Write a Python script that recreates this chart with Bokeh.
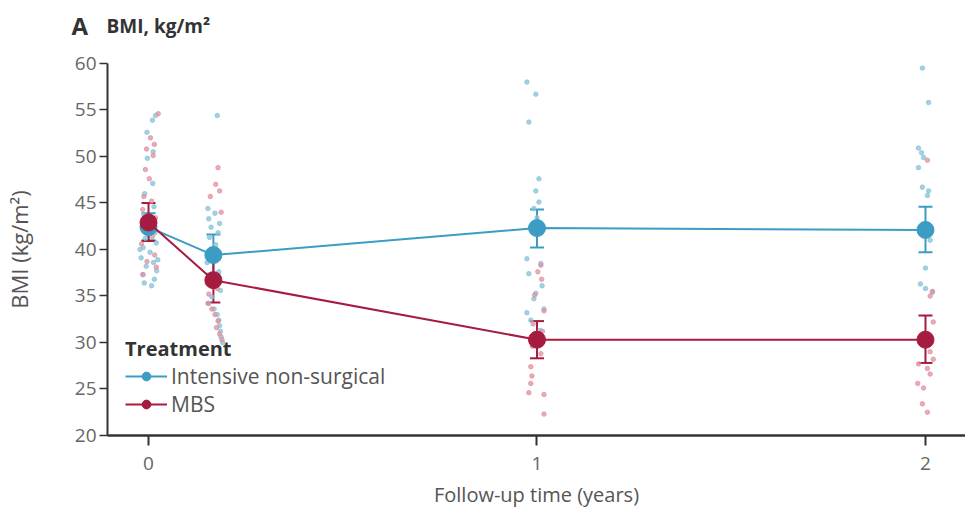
from bokeh.plotting import figure
from bokeh.models import (Range1d, FixedTicker, Whisker, ColumnDataSource, Legend,
                          LegendItem, Label, TeeHead)
from bokeh.embed import file_html
from bokeh.resources import INLINE

# Follow-up time points (years) and group summaries (mean with 95% CI)
times = [0, 0.167, 1, 2]
ins_mean = [42.4, 39.4, 42.3, 42.1]
ins_lo = [41.0, 37.4, 40.2, 39.7]
ins_hi = [43.9, 41.6, 44.3, 44.6]
mbs_mean = [42.9, 36.7, 30.3, 30.3]
mbs_lo = [40.9, 34.3, 28.3, 27.8]
mbs_hi = [45.0, 39.1, 32.3, 32.9]

# Individual participant values per visit, with horizontal jitter (years)
ins_t0 = [54.4, 53.9, 52.6, 50.5, 49.8, 47.1, 46.0, 44.6, 43.7, 43.0, 42.3, 41.8, 41.2,
          40.7, 40.2, 39.7, 39.1, 38.6, 38.2, 37.7, 37.3, 36.8, 36.4, 36.1, 38.9, 40.0]
ins_t0_dx = [0.018, 0.010, -0.004, 0.012, -0.003, 0.011, -0.010, 0.014, -0.012, 0.006,
             -0.016, 0.017, -0.008, 0.020, -0.014, 0.004, -0.019, 0.013, -0.006, 0.021,
             -0.015, 0.015, -0.011, 0.008, 0.024, -0.022]
mbs_t0 = [54.6, 52.0, 51.3, 50.8, 50.1, 48.6, 47.6, 45.7, 45.2, 44.3, 43.4, 42.0, 41.4,
          40.6, 39.4, 38.7, 38.1, 37.3]
mbs_t0_dx = [0.025, 0.005, 0.015, -0.005, 0.012, -0.008, 0.002, -0.012, 0.008, -0.015,
             0.018, -0.010, 0.010, -0.018, 0.016, -0.004, 0.020, -0.014]

ins_t2m = [54.4, 44.4, 43.9, 43.3, 42.8, 42.4, 41.8, 41.3, 40.5, 38.6, 37.6, 36.3, 35.6,
           34.9, 34.2, 33.6, 33.0, 32.4, 31.8, 31.2, 30.6, 30.0]
ins_t2m_dx = [0.010, -0.014, 0.004, -0.012, 0.016, -0.006, 0.012, -0.010, 0.006, -0.016,
              0.014, -0.008, 0.018, -0.004, -0.012, 0.002, 0.010, 0.014, 0.016, 0.018,
              0.020, 0.024]
mbs_t2m = [48.8, 47.0, 46.3, 45.7, 44.0, 36.4, 35.8, 35.2, 34.2, 33.6, 33.0, 32.3, 31.6,
           30.9, 30.3]
mbs_t2m_dx = [0.012, 0.006, 0.016, -0.008, 0.020, -0.016, 0.010, -0.012, -0.014, -0.004,
              0.004, 0.012, 0.008, 0.016, 0.022]

ins_t1 = [58.0, 56.7, 53.7, 47.6, 46.3, 45.1, 44.4, 43.4, 39.0, 38.5, 37.4, 36.1, 35.3,
          34.7, 33.6, 33.2, 32.4, 31.3]
ins_t1_dx = [-0.026, -0.003, -0.021, 0.005, -0.003, 0.005, -0.008, 0.000, -0.026, 0.010,
             -0.021, 0.013, -0.003, -0.008, 0.018, -0.026, -0.016, 0.008]
mbs_t1 = [38.3, 37.6, 36.8, 35.1, 33.4, 32.0, 31.2, 29.6, 28.8, 27.4, 26.4, 25.6, 24.6,
          24.4, 22.3]
mbs_t1_dx = [0.010, 0.002, 0.012, -0.006, 0.018, -0.010, 0.014, -0.012, 0.010, -0.016,
             -0.013, -0.016, -0.021, 0.018, 0.018]

ins_t2 = [59.5, 55.8, 50.9, 50.4, 49.9, 48.8, 46.7, 46.3, 45.8, 41.0, 38.0, 36.3, 35.8, 35.4]
ins_t2_dx = [-0.008, 0.008, -0.018, -0.010, -0.005, -0.018, -0.008, 0.008, 0.005, 0.012,
             0.000, -0.013, 0.000, 0.018]
mbs_t2 = [49.6, 35.5, 35.0, 32.2, 29.0, 28.2, 27.7, 27.2, 26.6, 25.6, 25.1, 23.4, 22.5]
mbs_t2_dx = [0.005, 0.018, 0.012, 0.020, 0.012, 0.020, -0.018, 0.005, 0.012, -0.020,
             -0.005, -0.008, 0.005]

x_ticks = [0, 1, 2]
y_ticks = [20, 25, 30, 35, 40, 45, 50, 55, 60]

BLUE = "#3b9dc3"
RED = "#a51c40"
BLUE_PT = "#86c2d8"
RED_PT = "#e1909f"
FONT = "Open Sans"

# Axis extents in data units; the frame itself fills the whole canvas so that the
# heading, tick labels and axis titles all sit inside it.
X_AXIS_START = -0.1055
X_END = 2.103
Y_MIN, Y_MAX = 20, 60


def spread(groups):
    xs, ys = [], []
    for t, vals, dx in groups:
        for v, d in zip(vals, dx):
            xs.append(t + d)
            ys.append(v)
    return xs, ys


ins_x, ins_y = spread([(times[0], ins_t0, ins_t0_dx), (times[1], ins_t2m, ins_t2m_dx),
                       (times[2], ins_t1, ins_t1_dx), (times[3], ins_t2, ins_t2_dx)])
mbs_x, mbs_y = spread([(times[0], mbs_t0, mbs_t0_dx), (times[1], mbs_t2m, mbs_t2m_dx),
                       (times[2], mbs_t1, mbs_t1_dx), (times[3], mbs_t2, mbs_t2_dx)])

p = figure(width=965, height=512, output_backend="svg", toolbar_location=None,
           x_range=Range1d(-0.381, X_END), y_range=Range1d(11.72, 66.77),
           min_border=0)
p.title.visible = False
p.outline_line_color = None
p.xgrid.visible = False
p.ygrid.visible = False

# Individual values
p.scatter(ins_x, ins_y, size=4.5, color=BLUE_PT, alpha=0.75)
p.scatter(mbs_x, mbs_y, size=4.5, color=RED_PT, alpha=0.75)

legend_items = []
for name, mean, lo, hi, col in [("Intensive non-surgical", ins_mean, ins_lo, ins_hi, BLUE),
                                ("MBS", mbs_mean, mbs_lo, mbs_hi, RED)]:
    src = ColumnDataSource(dict(t=times, m=mean, lo=lo, hi=hi))
    ln = p.line("t", "m", source=src, color=col, line_width=2)
    wk = Whisker(source=src, base="t", lower="lo", upper="hi", dimension="height",
                 line_color=col, line_width=2,
                 upper_head=TeeHead(size=14, line_color=col, line_width=2),
                 lower_head=TeeHead(size=14, line_color=col, line_width=2))
    p.add_layout(wk)
    mk = p.scatter("t", "m", source=src, size=17, color=col)
    legend_items.append(LegendItem(label=name, renderers=[ln, mk]))

legend = Legend(items=legend_items, title="Treatment", location=(125, 94),
                background_fill_alpha=0, border_line_color=None,
                title_text_font=FONT, title_text_font_style="bold",
                title_text_font_size="20px", title_text_color="#333333",
                label_text_font=FONT, label_text_font_size="21px",
                label_text_color="#555555", glyph_width=42, glyph_height=22,
                spacing=0, padding=2, title_standoff=0, label_standoff=4)
p.add_layout(legend, "center")

# Axes
p.xaxis.ticker = FixedTicker(ticks=x_ticks)
p.yaxis.ticker = FixedTicker(ticks=y_ticks)
for ax in (p.xaxis[0], p.yaxis[0]):
    ax.axis_line_color = "#333333"
    ax.major_tick_line_color = "#333333"
    ax.major_tick_in = 0
    ax.minor_tick_line_color = None
    ax.major_label_text_font = FONT
    ax.major_label_text_font_size = "19px"
    ax.major_label_text_color = "#666666"
    ax.axis_label_text_font = FONT
    ax.axis_label_text_font_style = "normal"
    ax.axis_label_text_color = "#555555"

p.xaxis.fixed_location = Y_MIN
p.xaxis.bounds = (X_AXIS_START, X_END)
p.xaxis.axis_line_width = 2.5
p.xaxis.major_tick_line_width = 2
p.xaxis.major_tick_out = 10
p.xaxis.major_label_standoff = 12
p.xaxis.axis_label = "Follow-up time (years)"
p.xaxis.axis_label_text_font_size = "20px"
p.xaxis.axis_label_standoff = 7

p.yaxis.fixed_location = X_AXIS_START
p.yaxis.bounds = (Y_MIN, Y_MAX)
p.yaxis.axis_line_width = 2
p.yaxis.major_tick_line_width = 1.5
p.yaxis.major_tick_out = 8
p.yaxis.major_label_standoff = 3
p.yaxis.axis_label = "BMI (kg/m²)"
p.yaxis.axis_label_text_font_size = "22px"
p.yaxis.axis_label_standoff = 38

# Panel heading
p.add_layout(Label(x=-0.198, y=64.1, text="A", text_font=FONT, text_font_style="bold",
                   text_font_size="24px", text_color="#333333",
                   text_baseline="alphabetic"))
p.add_layout(Label(x=-0.108, y=64.0, text="BMI, kg/m²", text_font=FONT,
                   text_font_style="bold", text_font_size="19px", text_color="#333333",
                   text_baseline="alphabetic"))

open("out.html", "w").write(file_html(p, INLINE))
